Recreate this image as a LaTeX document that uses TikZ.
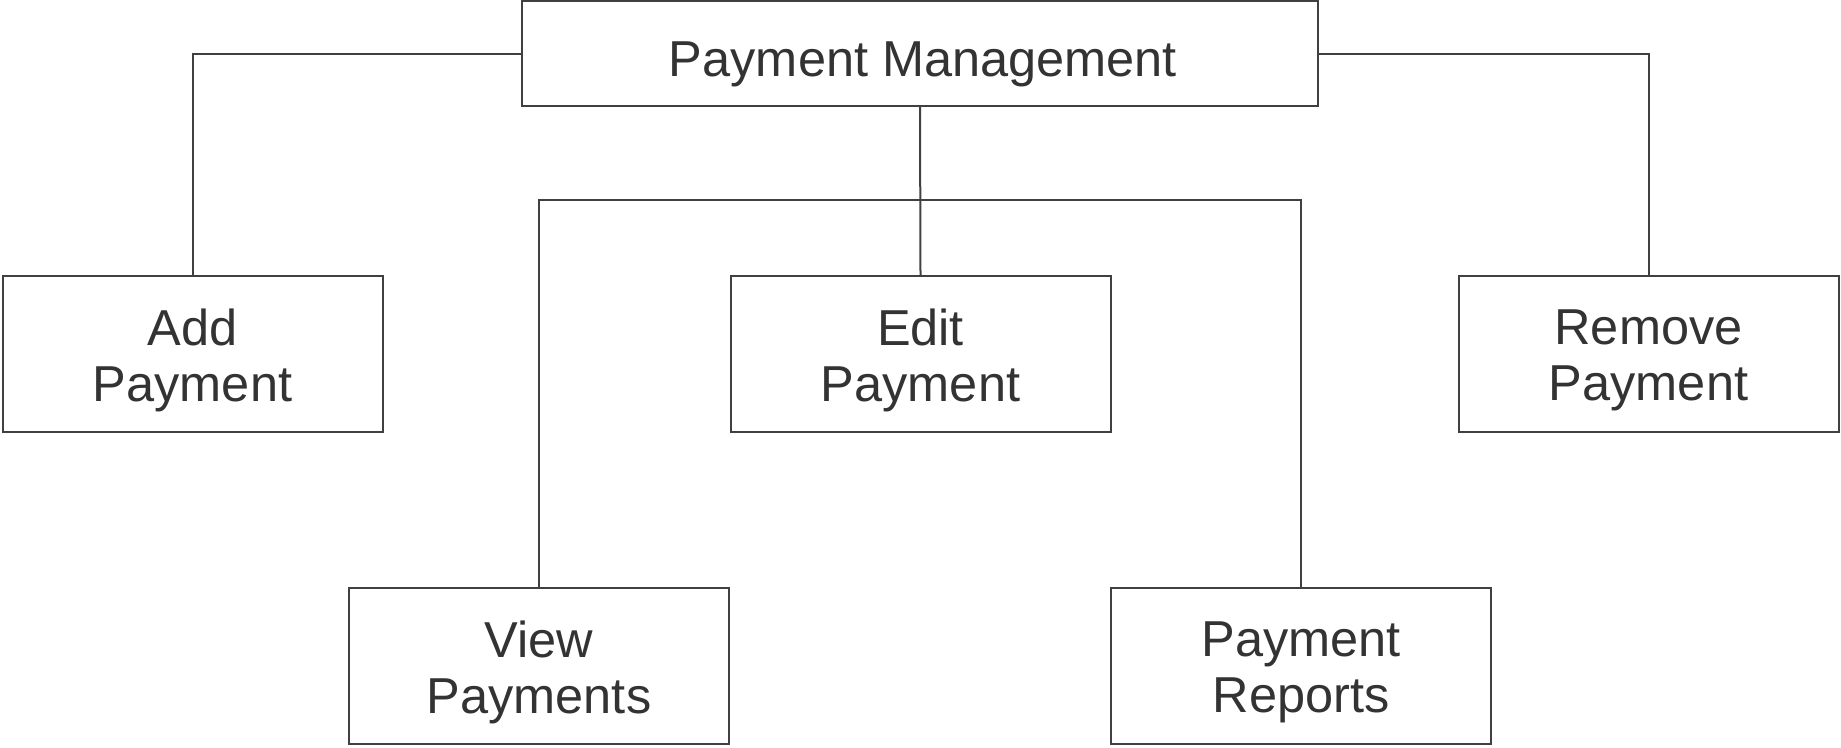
\documentclass[tikz,border=0pt]{standalone}
\usepackage{fontspec}
\setmainfont{Liberation Sans}
\definecolor{linec}{HTML}{404040}
\definecolor{textc}{HTML}{333333}
\begin{document}
\begin{tikzpicture}[x=1pt,y=-1pt,
  box/.style={draw=linec, line width=2pt, fill=white, rectangle, inner sep=0pt,
    minimum width=380pt, minimum height=156pt},
  txt/.style={inner sep=0pt, align=center, text=textc,
    font=\fontsize{50.5}{56}\selectfont},
  conn/.style={draw=linec, line width=2pt}]
\useasboundingbox (0,0) rectangle (1841,747);
\node[box, minimum width=796pt, minimum height=105pt] (top) at (920,53.5) {};
\node[box] (add) at (192.5,354) {};
\node[box] (edit) at (920.5,354) {};
\node[box] (remove) at (1648.5,354) {};
\node[box] (view) at (539,666) {};
\node[box] (reports) at (1301,666) {};
\node[txt] (ttop) at ([yshift=-11pt,xshift=3pt]top.center) {Payment Management};
\node[txt] (tadd) at ([yshift=-6pt]add.center) {Add\\Payment};
\node[txt] (tedit) at ([yshift=-6pt]edit.center) {Edit\\Payment};
\node[txt] (tremove) at ([yshift=-6pt]remove.center) {Remove\\Payment};
\node[txt] (tview) at ([yshift=-6pt]view.center) {View\\Payments};
\node[txt] (treports) at ([yshift=-6pt]reports.center) {Payment\\Reports};
\coordinate (j) at (920,200);
\draw[conn] (top.west) -| (add.north);
\draw[conn] (top.east) -| (remove.north);
\draw[conn] (top.south) -- (edit.north);
\draw[conn] (view.north) |- (j) -| (reports.north);
\end{tikzpicture}
\end{document}
